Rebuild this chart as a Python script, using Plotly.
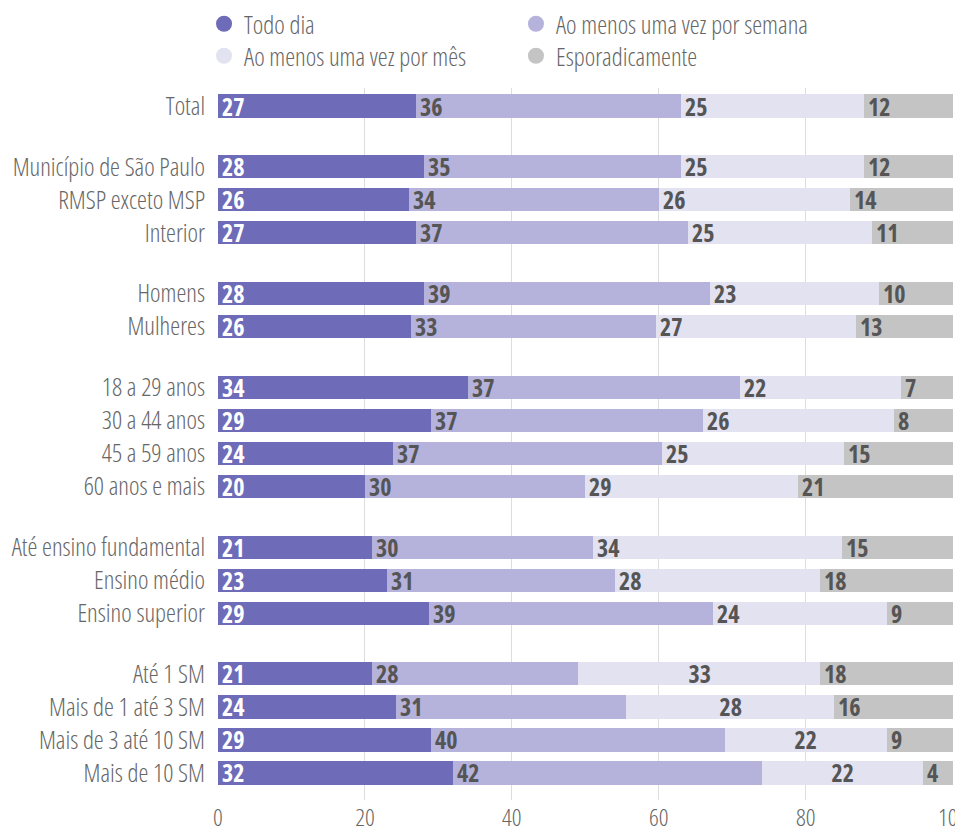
import plotly.graph_objects as go

# ---- data ----
groups = [
    ["Total"],
    ["Município de São Paulo", "RMSP exceto MSP", "Interior"],
    ["Homens", "Mulheres"],
    ["18 a 29 anos", "30 a 44 anos", "45 a 59 anos", "60 anos e mais"],
    ["Até ensino fundamental", "Ensino médio", "Ensino superior"],
    ["Até 1 SM", "Mais de 1 até 3 SM", "Mais de 3 até 10 SM", "Mais de 10 SM"],
]
series_names = ["Todo dia", "Ao menos uma vez por semana",
                "Ao menos uma vez por mês", "Esporadicamente"]
todo_dia = [27, 28, 26, 27, 28, 26, 34, 29, 24, 20, 21, 23, 29, 21, 24, 29, 32]
semana = [36, 35, 34, 37, 39, 33, 37, 37, 37, 30, 30, 31, 39, 28, 31, 40, 42]
mes = [25, 25, 26, 25, 23, 27, 22, 26, 25, 29, 34, 28, 24, 33, 28, 22, 22]
esporad = [12, 12, 14, 11, 10, 13, 7, 8, 15, 21, 15, 18, 9, 18, 16, 9, 4]
x_ticks = [0, 20, 40, 60, 80, 100]

# ---- styling ----
colors = ["#6e6bb8", "#b5b2dc", "#e3e2f1", "#c4c4c4"]
label_colors = ["#ffffff", "#555555", "#555555", "#555555"]
centered_labels = {("Até 1 SM", 2), ("Mais de 1 até 3 SM", 2),
                   ("Mais de 3 até 10 SM", 2), ("Mais de 10 SM", 2)}
# legend placement: (x in paper units, y in container units) per series
legend_pos = [(-0.019, 1 - 24 / 832), (0.4054, 1 - 24 / 832),
              (-0.019, 1 - 56 / 832), (0.4054, 1 - 56 / 832)]
GAP = 1.84
FONT = "Open Sans"
TXT = "#666666"


def tfont(size, color, weight=300):
    return dict(family=FONT, size=size, color=color, weight=weight)


categories, ypos = [], []
y = 0.0
for gi, g in enumerate(groups):
    if gi > 0:
        y += GAP
    for ci, c in enumerate(g):
        if ci > 0:
            y += 1
        categories.append(c)
        ypos.append(y)

series = [todo_dia, semana, mes, esporad]

fig = go.Figure()
for name, vals, col in zip(series_names, series, colors):
    fig.add_trace(go.Bar(
        x=vals, y=ypos, orientation="h", name=name,
        marker=dict(color=col, line=dict(width=0)),
        width=0.7, showlegend=False, hoverinfo="x+name",
    ))

legend_layout = {}
for k, (name, col) in enumerate(zip(series_names, colors)):
    lname = "legend" if k == 0 else f"legend{k + 1}"
    fig.add_trace(go.Scatter(
        x=[None], y=[None], mode="markers", name=name, legend=lname,
        marker=dict(color=col, size=16, symbol="circle"),
    ))
    lx, ly = legend_pos[k]
    legend_layout[lname] = dict(
        orientation="v", x=lx, xanchor="left", y=ly, yref="container",
        yanchor="middle", font=tfont(25, TXT), bgcolor="rgba(0,0,0,0)",
        itemsizing="trace",
    )

annotations = []
for i, cat in enumerate(categories):
    total = sum(vals[i] for vals in series)
    start = 0.0
    for s, vals in enumerate(series):
        v = vals[i]
        w = v / total * 100  # same normalisation as barnorm="percent"
        if (cat, s) in centered_labels:
            ax, anchor, shift, al = start + w / 2, "center", 0, "center"
        else:
            ax, anchor, shift, al = start, "left", 2, "left"
        annotations.append(dict(
            x=ax, y=ypos[i], xref="x", yref="y", text=str(v),
            showarrow=False, xanchor=anchor, yanchor="middle", xshift=shift,
            align=al, font=tfont(24, label_colors[s], 700),
        ))
        start += w

fig.update_layout(
    barmode="stack",
    barnorm="percent",
    width=955, height=832,
    margin=dict(l=218, r=2, t=88, b=32, autoexpand=False),
    plot_bgcolor="white", paper_bgcolor="white",
    font=tfont(25, TXT),
    bargap=0,
    annotations=annotations,
    xaxis=dict(
        range=[0, 100.05], tickvals=x_ticks, showgrid=True, gridcolor="#dddddd",
        gridwidth=1, zeroline=False, showline=False, ticks="",
        tickfont=tfont(24, TXT), fixedrange=True, automargin=False,
        ticklabelstandoff=1, ticklabeloverflow="allow",
    ),
    yaxis=dict(
        range=[ypos[-1] + 0.818, -0.545], tickvals=ypos, ticktext=categories,
        showgrid=False, zeroline=False, showline=False, ticks="",
        ticklabelstandoff=12, tickfont=tfont(25, TXT),
        fixedrange=True, automargin=False,
    ),
    **legend_layout,
)

css_js = ("var s=document.createElement('style');"
          "s.textContent='svg text{font-stretch:75% !important;}';"
          "document.head.appendChild(s);")
fig.write_html("out.html", post_script=css_js)
